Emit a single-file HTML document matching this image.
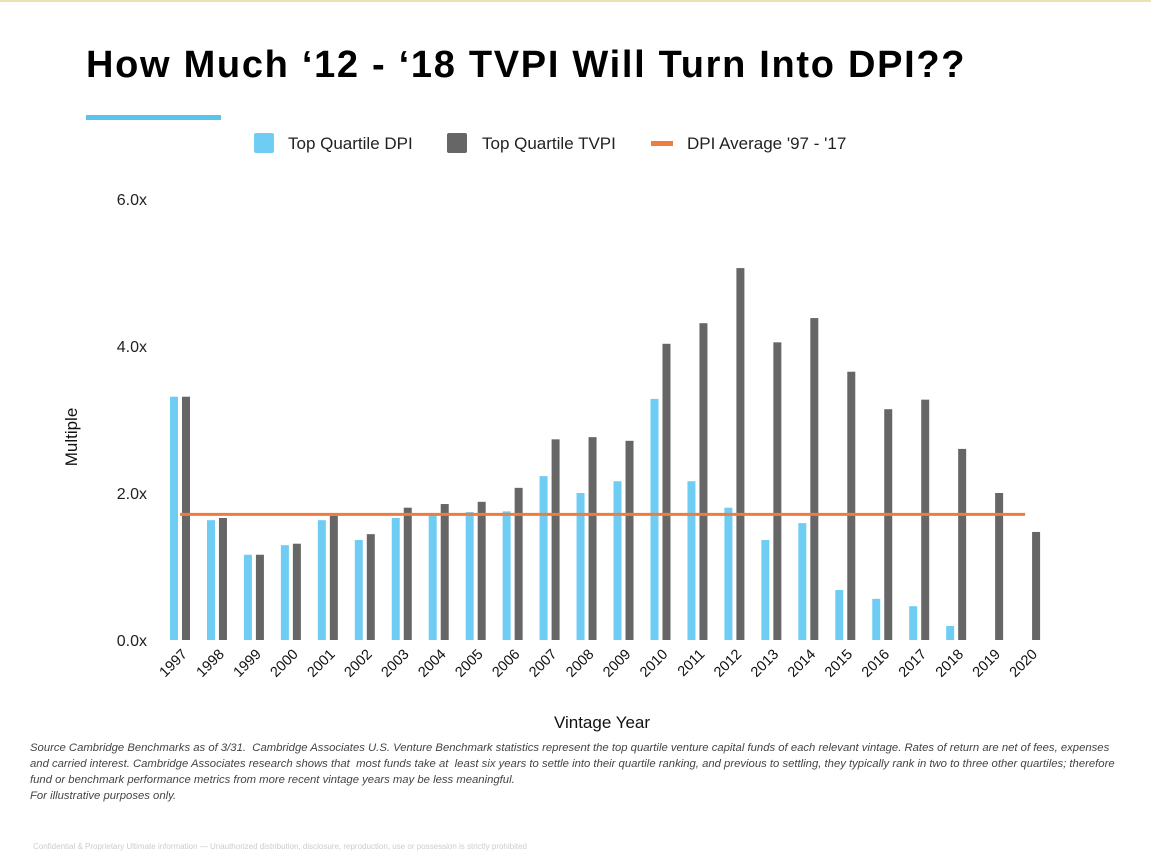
<!DOCTYPE html>
<html><head><meta charset="utf-8">
<style>
html,body{margin:0;padding:0;background:#fff;width:1151px;height:851px;overflow:hidden;font-family:"Liberation Sans",sans-serif}
#topline{position:absolute;left:0;top:0;width:1151px;height:2px;background:#e8e4b0}
h1{position:absolute;left:86px;top:44px;margin:0;font-size:38px;font-weight:bold;color:#000;letter-spacing:1.7px;white-space:nowrap}
#accent{position:absolute;left:86px;top:115px;width:135px;height:5px;background:#5bc4ec}
.foot{position:absolute;left:30px;top:740px;width:1090px;font-size:11.3px;line-height:16px;font-style:italic;color:#444}
.conf{position:absolute;left:33px;top:842px;font-size:8px;color:#ccc}
</style></head><body>
<div id="topline"></div>
<h1>How Much ‘12 - ‘18 TVPI Will Turn Into DPI??</h1>
<div id="accent"></div>
<svg id="chart" width="1151" height="851" style="position:absolute;left:0;top:0"></svg>
<div class="foot">Source Cambridge Benchmarks as of 3/31. &nbsp;Cambridge Associates U.S. Venture Benchmark statistics represent the top quartile venture capital funds of each relevant vintage. Rates of return are net of fees, expenses and carried interest. Cambridge Associates research shows that &nbsp;most funds take at &nbsp;least six years to settle into their quartile ranking, and previous to settling, they typically rank in two to three other quartiles; therefore fund or benchmark performance metrics from more recent vintage years may be less meaningful.<br>For illustrative purposes only.</div>
<div class="conf">Confidential &amp; Proprietary Ultimate information — Unauthorized distribution, disclosure, reproduction, use or possession is strictly prohibited</div>
<script>
const years=["1997","1998","1999","2000","2001","2002","2003","2004","2005","2006","2007","2008","2009","2010","2011","2012","2013","2014","2015","2016","2017","2018","2019","2020"];
const dpi=[3.31,1.63,1.16,1.29,1.63,1.36,1.66,1.70,1.74,1.75,2.23,2.00,2.16,3.28,2.16,1.80,1.36,1.59,0.68,0.56,0.46,0.19,0,0];
const tvpi=[3.31,1.66,1.16,1.31,1.69,1.44,1.80,1.85,1.88,2.07,2.73,2.76,2.71,4.03,4.31,5.06,4.05,4.38,3.65,3.14,3.27,2.60,2.00,1.47];
const avgDpi=1.71;
const yTicks=[0,2,4,6];
const yTickLabels=["0.0x","2.0x","4.0x","6.0x"];
const NS="http://www.w3.org/2000/svg";
const svg=document.getElementById('chart');
const y0=640,pxPer=73.5;
const yScale=v=>y0-v*pxPer;
const xStart=180,step=36.96;
const xScale=i=>xStart+i*step;
function mk(t,a,txt){const e=document.createElementNS(NS,t);for(const k in a)e.setAttribute(k,a[k]);if(txt!==undefined)e.textContent=txt;svg.appendChild(e);return e;}
yTicks.forEach((v,i)=>{
 const t=mk('text',{x:147,y:yScale(v)+6,'text-anchor':'end','font-size':16,fill:'#222','font-family':'Liberation Sans'},yTickLabels[i]);
 
 
});
years.forEach((yr,i)=>{
 const cx=xScale(i);
 if(dpi[i]>0){const r=mk('rect',{x:cx-10,y:yScale(dpi[i]),width:8,height:dpi[i]*pxPer,fill:'#6fcdf3'});
 
 }
 const r2=mk('rect',{x:cx+2,y:yScale(tvpi[i]),width:8,height:tvpi[i]*pxPer,fill:'#666666'});
 
 
 const t=mk('text',{x:cx+8,y:655,'text-anchor':'end','font-size':14.5,fill:'#111','font-family':'Liberation Sans',transform:`rotate(-45 ${cx+8} 655)`},yr);
 
 
});
const ln=mk('line',{x1:xScale(0),x2:xScale(years.length-1)-5,y1:yScale(avgDpi),y2:yScale(avgDpi),stroke:'#f07b3f','stroke-width':3});


const yt=mk('text',{x:77,y:437,'text-anchor':'middle','font-size':17,fill:'#111','font-family':'Liberation Sans',transform:'rotate(-90 77 437)'},'Multiple');


const xt=mk('text',{x:602,y:728,'text-anchor':'middle','font-size':17,fill:'#111','font-family':'Liberation Sans'},'Vintage Year');


const l1=mk('rect',{x:254,y:133,width:20,height:20,fill:'#6fcdf3',rx:2});


const lt1=mk('text',{x:288,y:149,'font-size':17,fill:'#222','font-family':'Liberation Sans'},'Top Quartile DPI');


const l2=mk('rect',{x:447,y:133,width:20,height:20,fill:'#666666',rx:2});


const lt2=mk('text',{x:482,y:149,'font-size':17,fill:'#222','font-family':'Liberation Sans'},'Top Quartile TVPI');


const l3=mk('rect',{x:651,y:141,width:22,height:5,fill:'#f07b3f'});


const lt3=mk('text',{x:687,y:149,'font-size':17,fill:'#222','font-family':'Liberation Sans'},"DPI Average '97 - '17");


</script>
</body></html>
